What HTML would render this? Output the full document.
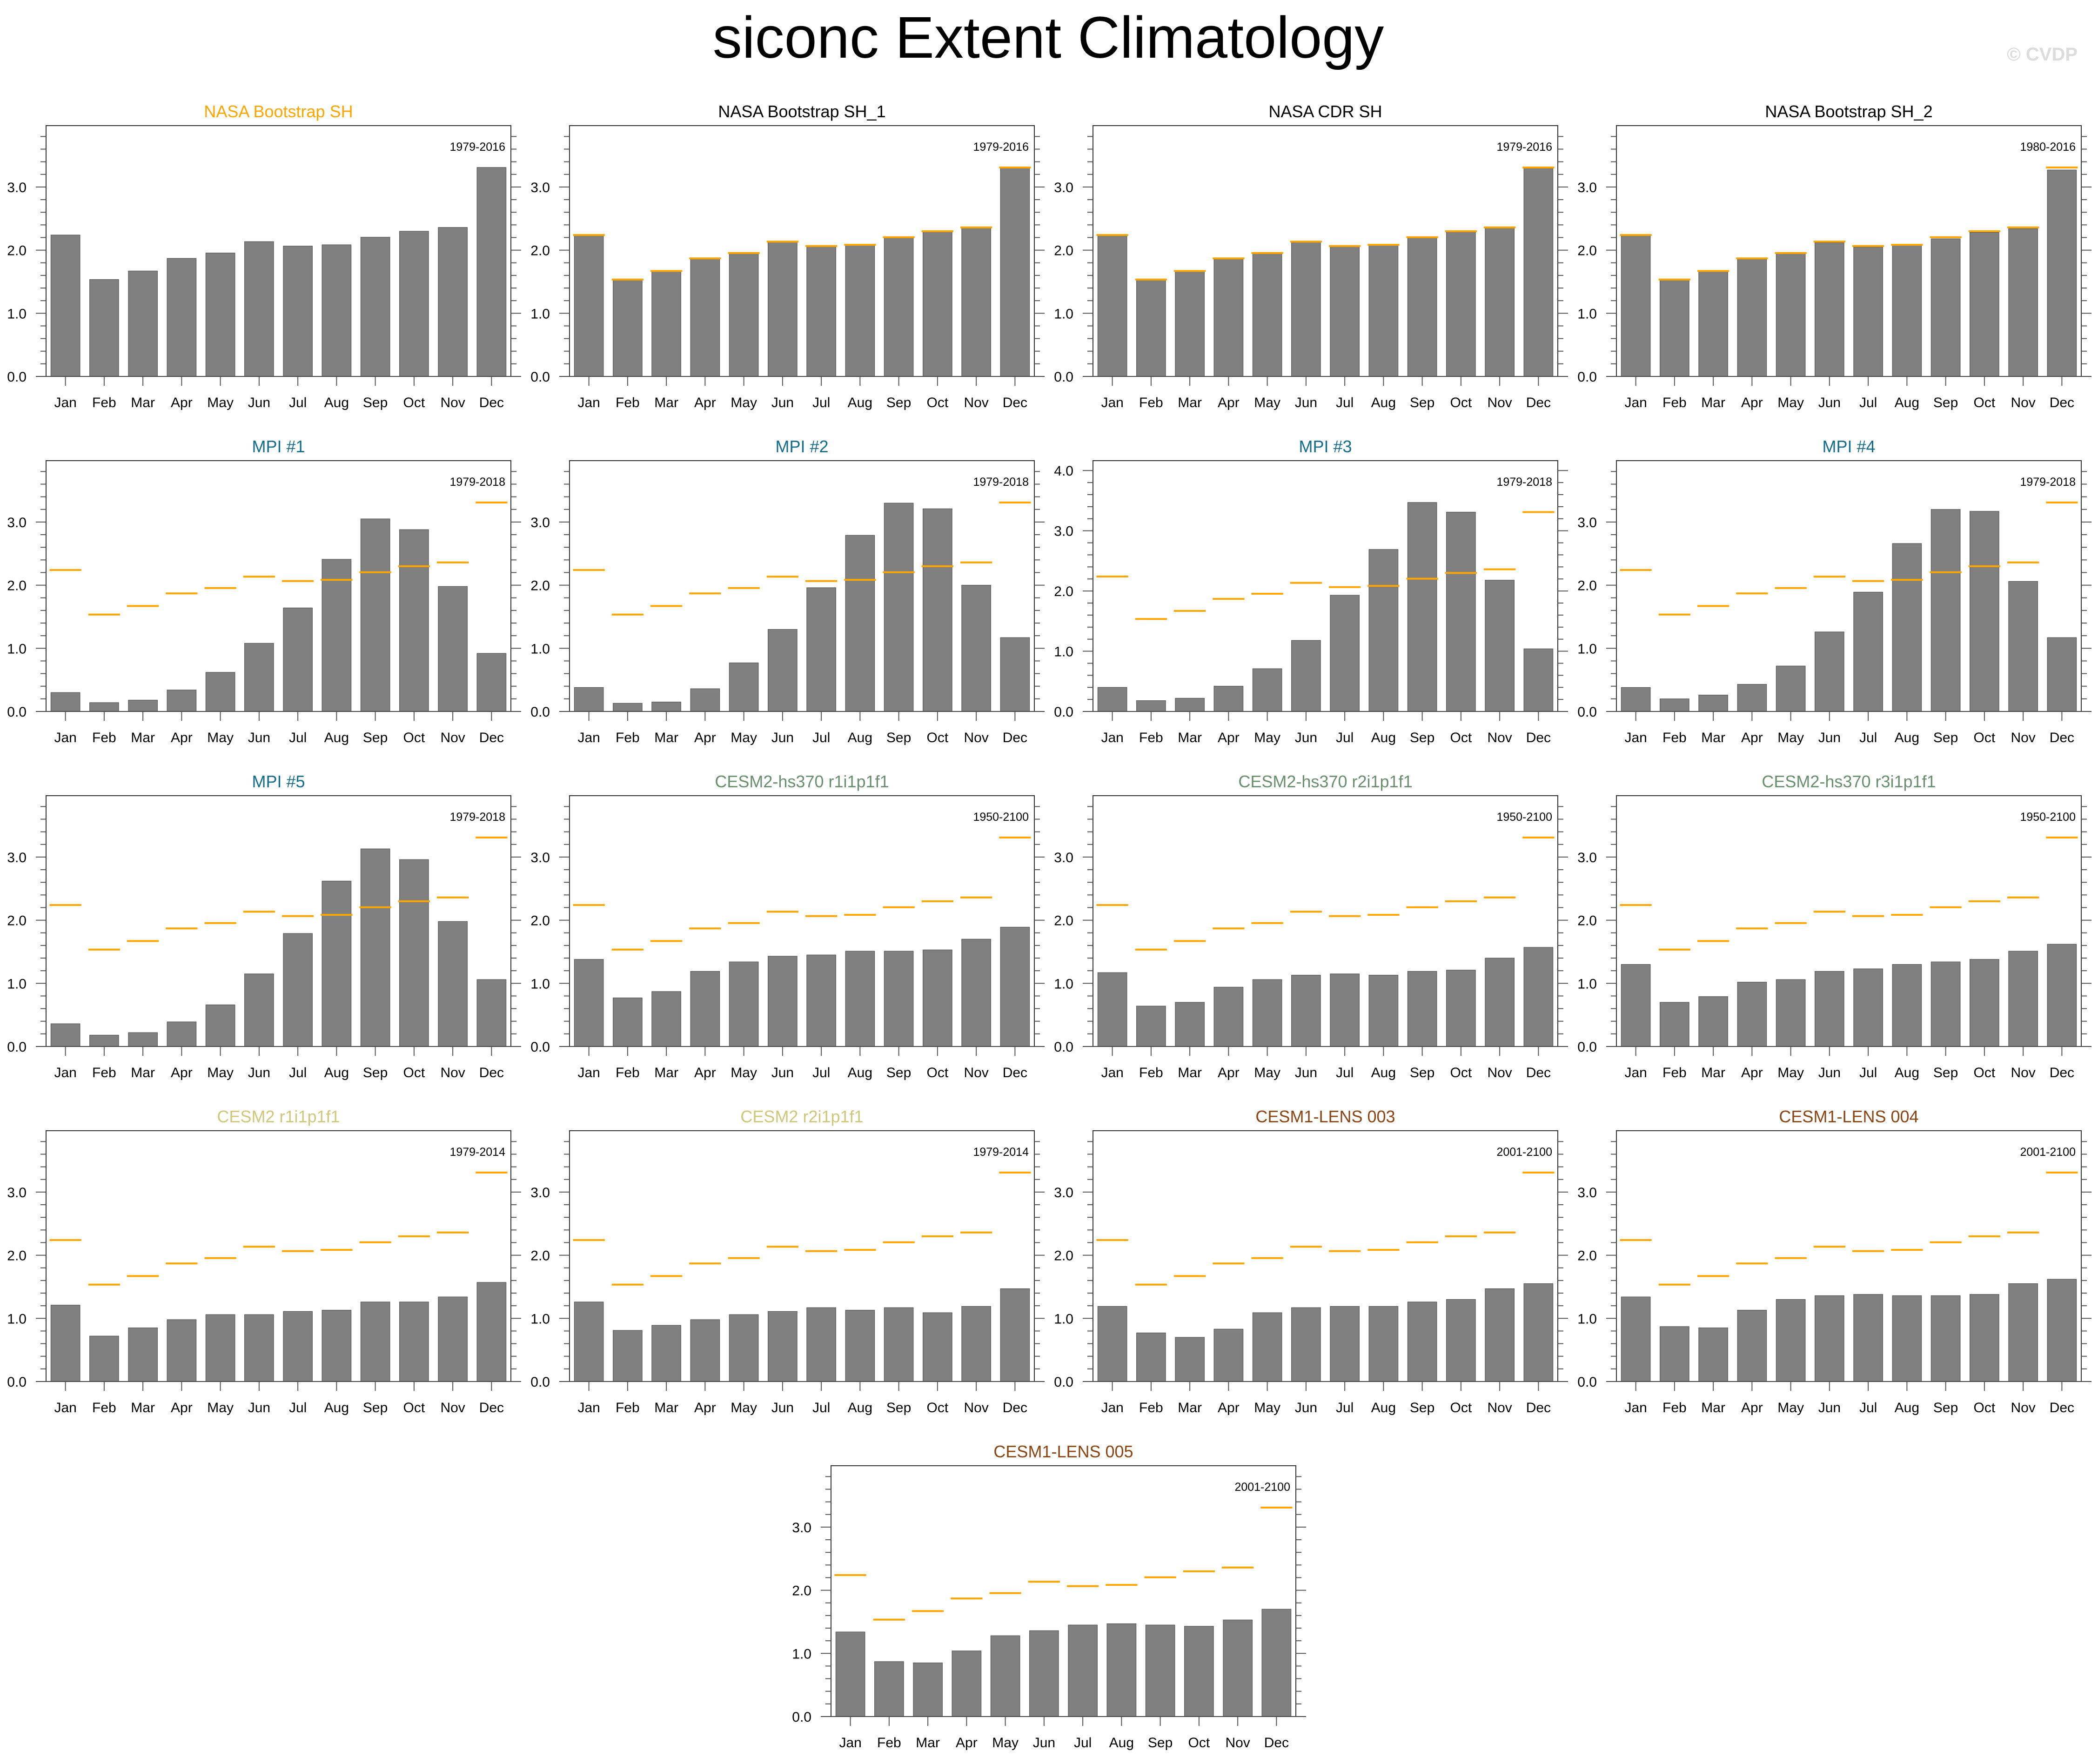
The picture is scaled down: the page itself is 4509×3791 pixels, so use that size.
<!DOCTYPE html>
<html><head><meta charset="utf-8"><style>
html,body{margin:0;padding:0;background:#fff;}
svg{display:block;font-family:"Liberation Sans",sans-serif;}
</style></head><body>
<svg id="chart" width="4509" height="3791" viewBox="0 0 4509 3791" xmlns="http://www.w3.org/2000/svg">
<rect width="4509" height="3791" fill="#fff"/>
<text x="2253" y="124" font-size="126" text-anchor="middle" fill="#000">siconc Extent Climatology</text>
<text x="4465" y="130" font-size="40" font-weight="bold" text-anchor="end" fill="#dcdcdc">© CVDP</text>
</svg>
<script>
const months = ["Jan","Feb","Mar","Apr","May","Jun","Jul","Aug","Sep","Oct","Nov","Dec"];
const obsValues = [2.24,1.535,1.67,1.87,1.955,2.135,2.065,2.085,2.205,2.30,2.36,3.31];
const panelTitles = ["NASA Bootstrap SH","NASA Bootstrap SH_1","NASA CDR SH","NASA Bootstrap SH_2","MPI #1","MPI #2","MPI #3","MPI #4","MPI #5","CESM2-hs370 r1i1p1f1","CESM2-hs370 r2i1p1f1","CESM2-hs370 r3i1p1f1","CESM2 r1i1p1f1","CESM2 r2i1p1f1","CESM1-LENS 003","CESM1-LENS 004","CESM1-LENS 005"];
const panelYears = ["1979-2016","1979-2016","1979-2016","1980-2016","1979-2018","1979-2018","1979-2018","1979-2018","1979-2018","1950-2100","1950-2100","1950-2100","1979-2014","1979-2014","2001-2100","2001-2100","2001-2100"];
const valsSH = [2.24,1.535,1.67,1.87,1.955,2.135,2.065,2.085,2.205,2.30,2.36,3.31];
const valsSH1 = [2.24,1.535,1.67,1.87,1.955,2.135,2.065,2.085,2.205,2.30,2.36,3.31];
const valsCDR = [2.23,1.53,1.66,1.86,1.95,2.13,2.06,2.08,2.20,2.29,2.35,3.30];
const valsSH2 = [2.23,1.53,1.66,1.86,1.95,2.12,2.05,2.08,2.18,2.28,2.34,3.27];
const valsMPI1 = [0.30,0.14,0.18,0.34,0.62,1.08,1.64,2.41,3.05,2.88,1.98,0.92];
const valsMPI2 = [0.38,0.13,0.15,0.36,0.77,1.30,1.96,2.79,3.30,3.21,2.00,1.17];
const valsMPI3 = [0.40,0.18,0.22,0.42,0.71,1.18,1.93,2.69,3.47,3.31,2.18,1.04];
const valsMPI4 = [0.38,0.20,0.26,0.43,0.72,1.26,1.89,2.66,3.20,3.17,2.06,1.17];
const valsMPI5 = [0.36,0.18,0.22,0.39,0.66,1.15,1.79,2.62,3.13,2.96,1.98,1.06];
const valsHS1 = [1.38,0.77,0.87,1.19,1.34,1.43,1.45,1.51,1.51,1.53,1.70,1.89];
const valsHS2 = [1.17,0.64,0.70,0.94,1.06,1.13,1.15,1.13,1.19,1.21,1.40,1.57];
const valsHS3 = [1.30,0.70,0.79,1.02,1.06,1.19,1.23,1.30,1.34,1.38,1.51,1.62];
const valsC2r1 = [1.21,0.72,0.85,0.98,1.06,1.06,1.11,1.13,1.26,1.26,1.34,1.57];
const valsC2r2 = [1.26,0.81,0.89,0.98,1.06,1.11,1.17,1.13,1.17,1.09,1.19,1.47];
const valsL003 = [1.19,0.77,0.70,0.83,1.09,1.17,1.19,1.19,1.26,1.30,1.47,1.55];
const valsL004 = [1.34,0.87,0.85,1.13,1.30,1.36,1.38,1.36,1.36,1.38,1.55,1.62];
const valsL005 = [1.34,0.87,0.85,1.04,1.28,1.36,1.45,1.47,1.45,1.43,1.53,1.70];
const panelValues = [valsSH,valsSH1,valsCDR,valsSH2,valsMPI1,valsMPI2,valsMPI3,valsMPI4,valsMPI5,valsHS1,valsHS2,valsHS3,valsC2r1,valsC2r2,valsL003,valsL004,valsL005];

const NS="http://www.w3.org/2000/svg";
const svg=document.getElementById('chart');
function mk(tag,attrs,parent){const e=document.createElementNS(NS,tag);for(const k in attrs)e.setAttribute(k,attrs[k]);(parent||svg).appendChild(e);return e;}
function titleColor(t){
  if(t==="NASA Bootstrap SH")return "#ffa500";
  if(t.startsWith("NASA"))return "#000";
  if(t.startsWith("MPI"))return "#146d8c";
  if(t.startsWith("CESM2-hs370"))return "#6a8f6e";
  if(t.startsWith("CESM2"))return "#cfc77a";
  return "#8b4513";
}
const W=999,H=539;
panelTitles.forEach((title,i)=>{
  let px,py;
  if(i<16){px=99+(i%4)*1125;py=270+Math.floor(i/4)*720;}else{px=1786;py=3150;}
  const vals=panelValues[i];
  const ymax=1.2*Math.max(Math.max(...vals),Math.max(...obsValues));
  const y=v=>py+H-v/ymax*H;
  const slot=W/12;
  const x=k=>px+slot*(k+0.5);
  const g=mk('g',{});
  
  
  const t=mk('text',{x:px+W/2,y:py-18,'font-size':36,'text-anchor':'middle',fill:titleColor(title)},g);
  
  
  t.textContent=title;
  // bars
  vals.forEach((v,k)=>{
    const b=mk('rect',{x:x(k)-slot*0.375,y:y(v),width:slot*0.75,height:py+H-y(v),fill:'#808080',stroke:'#555','stroke-width':1.2},g);
    
    
  });
  if(i>0){
    obsValues.forEach((v,k)=>{
      const l=mk('line',{x1:x(k)-slot*0.41,x2:x(k)+slot*0.41,y1:y(v),y2:y(v),stroke:'#ffa500','stroke-width':4},g);
      
      
    });
  }
  // frame
  const fr=mk('rect',{x:px,y:py,width:W,height:H,fill:'none',stroke:'#333','stroke-width':2},g);
  
  
  // y ticks
  for(let s=0;s*0.2<=ymax+1e-9;s++){
    const v=s*0.2, yy=y(v), major=(s%5===0), len=major?22:12;
    mk('line',{x1:px-len,x2:px,y1:yy,y2:yy,stroke:'#555','stroke-width':2},g);
    mk('line',{x1:px+W,x2:px+W+len,y1:yy,y2:yy,stroke:'#555','stroke-width':2},g);
    if(major){
      const lb=mk('text',{x:px-42,y:yy+11,'font-size':30,'text-anchor':'end',fill:'#000'},g);
      
      
      lb.textContent=v.toFixed(1);
    }
  }
  mk('line',{x1:px-22,x2:px+W+22,y1:py+H,y2:py+H,stroke:'#444','stroke-width':2},g);
  months.forEach((m,k)=>{
    mk('line',{x1:x(k),x2:x(k),y1:py+H,y2:py+H+20,stroke:'#555','stroke-width':2},g);
    const ml=mk('text',{x:x(k),y:py+H+66,'font-size':30,'text-anchor':'middle',fill:'#000'},g);
    
    
    ml.textContent=m;
  });
  const yr=mk('text',{x:px+W-12,y:py+54,'font-size':25,'text-anchor':'end',fill:'#000'},g);
  
  
  yr.textContent=panelYears[i];
});
</script>
</body></html>
